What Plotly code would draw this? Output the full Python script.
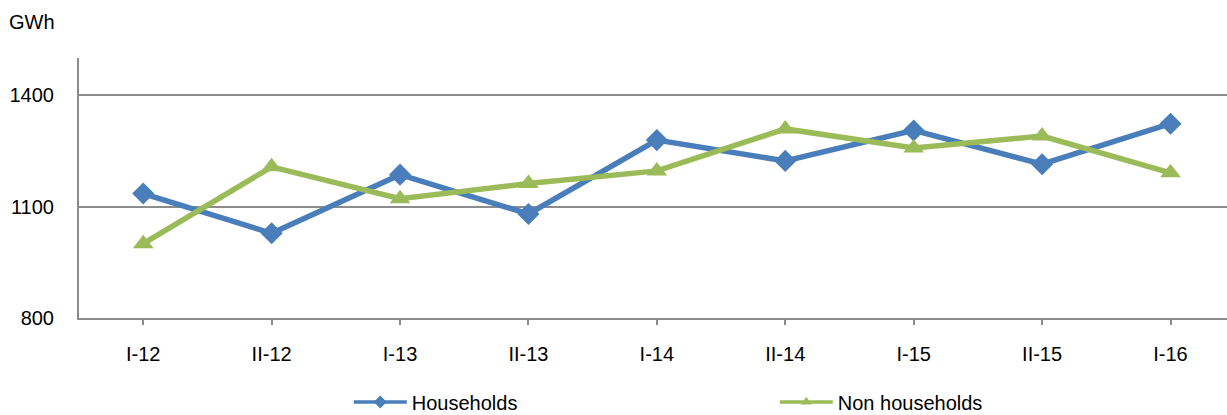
import plotly.graph_objects as go

# Half-year periods
periods = ["I-12", "II-12", "I-13", "II-13", "I-14", "II-14", "I-15", "II-15", "I-16"]

# Electricity consumption, GWh
households = [1135, 1028, 1186, 1080, 1279, 1223, 1305, 1214, 1323]
non_households = [1000, 1207, 1121, 1162, 1196, 1309, 1258, 1290, 1191]

BLUE = "#4A7EBB"
GREEN = "#9BBB59"
GRID = "#8C8C8C"
FONT = dict(family="Liberation Sans, Arial, sans-serif", size=20, color="#000000")

fig = go.Figure()
fig.add_trace(go.Scatter(
    x=periods, y=households, name="Households", mode="lines+markers",
    line=dict(color=BLUE, width=5.5),
    marker=dict(symbol="diamond", size=17, color=BLUE),
    showlegend=False,
))
fig.add_trace(go.Scatter(
    x=periods, y=non_households, name="Non households", mode="lines+markers",
    line=dict(color=GREEN, width=5.5),
    marker=dict(symbol="triangle-up", size=18, color=GREEN),
    showlegend=False,
))
# Legend entries with smaller key markers
fig.add_trace(go.Scatter(
    x=[None], y=[None], name="Households", mode="lines+markers",
    line=dict(color=BLUE, width=3.5),
    marker=dict(symbol="diamond", size=10, color=BLUE),
))
fig.add_trace(go.Scatter(
    x=[None], y=[None], name="Non households", mode="lines+markers",
    line=dict(color=GREEN, width=3.5),
    marker=dict(symbol="triangle-up", size=10, color=GREEN),
))

fig.update_layout(
    width=1227, height=415,
    margin=dict(l=79, r=0, t=58, b=97, autoexpand=False),
    paper_bgcolor="white", plot_bgcolor="white",
    font=FONT,
    showlegend=True,
    legend=dict(
        orientation="h", x=0.235, xanchor="left", y=-0.323, yanchor="middle",
        entrywidth=358, entrywidthmode="pixels", itemwidth=53,
        font=FONT, bgcolor="rgba(0,0,0,0)",
    ),
    annotations=[dict(
        text="GWh", xref="paper", yref="paper", x=-0.0195, y=1.14,
        xanchor="right", yanchor="middle", showarrow=False, font=FONT,
    )],
)

fig.update_xaxes(
    type="category", range=[-0.5, 8.44],
    showline=True, linecolor=GRID, linewidth=2,
    ticks="outside", ticklen=5, tickcolor=GRID, tickwidth=1.5,
    showgrid=False, tickfont=FONT, ticklabelstandoff=12,
)
fig.update_yaxes(
    range=[800, 1500], tickvals=[800, 1100, 1400],
    showline=True, linecolor=GRID, linewidth=2,
    showgrid=True, gridcolor=GRID, gridwidth=1.5,
    ticks="", tickfont=FONT, ticklabelstandoff=19, zeroline=False,
)

fig.write_html("out.html")
